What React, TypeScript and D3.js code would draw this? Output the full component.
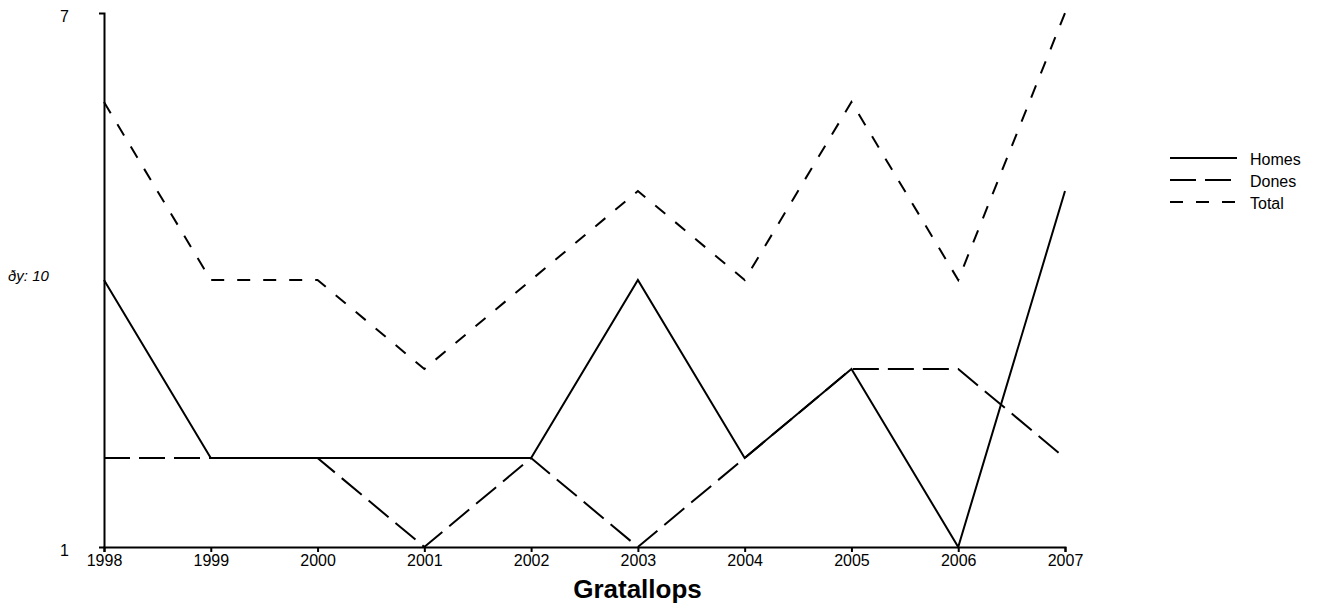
import { useEffect, useRef } from "react";
import * as d3 from "d3";

const years = [1998, 1999, 2000, 2001, 2002, 2003, 2004, 2005, 2006, 2007];
const homes = [4, 2, 2, 2, 2, 4, 2, 3, 1, 5];
const dones = [2, 2, 2, 1, 2, 1, 2, 3, 3, 2];
const total = [6, 4, 4, 3, 4, 5, 4, 6, 4, 7];

const seriesNames = ["Homes", "Dones", "Total"];
const seriesDash = [null, "26,9", "13,13"];

const WIDTH = 1318;
const HEIGHT = 613;
const margin = { left: 104, right: 253, top: 13, bottom: 66 };
const FONT = "Liberation Sans, Arial, sans-serif";

export default function App() {
  const svgRef = useRef<SVGSVGElement>(null);

  useEffect(() => {
    const svg = d3.select(svgRef.current);
    svg.selectAll("*").remove();

    const x = d3
      .scaleLinear()
      .domain([1998, 2007])
      .range([margin.left, WIDTH - margin.right]);
    const y = d3
      .scaleLinear()
      .domain([1, 7])
      .range([HEIGHT - margin.bottom, margin.top]);

    const allSeries = [homes, dones, total];
    const line = d3
      .line<number>()
      .x((_, i) => x(years[i]))
      .y((d) => y(d));

    const g = svg.append("g");
    allSeries.forEach((vals, i) => {
      g.append("path")
        .attr("d", line(vals))
        .attr("fill", "none")
        .attr("stroke", "#000")
        .attr("stroke-width", 2)
        .attr("stroke-dasharray", seriesDash[i]);
    });

    // x axis
    const xAxis = svg
      .append("g")
      .attr("transform", `translate(0,${y(1)})`)
      .call(
        d3
          .axisBottom(x)
          .tickValues(years)
          .tickFormat(d3.format("d"))
          .tickSize(5)
          .tickSizeOuter(5)
      );
    xAxis.attr("font-family", FONT).attr("font-size", 16);
    xAxis.select(".domain").attr("stroke-width", 2);
    xAxis.selectAll(".tick line").attr("stroke-width", 2);
    xAxis.selectAll(".tick text").attr("fill", "#000").attr("dy", "0.66em");

    // y axis
    const yAxis = svg
      .append("g")
      .attr("transform", `translate(${x(1998)},0)`)
      .call(
        d3
          .axisLeft(y)
          .tickValues([1, 7])
          .tickFormat(d3.format("d"))
          .tickSize(0)
          .tickSizeOuter(5)
      );
    yAxis.attr("font-family", FONT).attr("font-size", 16);
    yAxis.select(".domain").attr("stroke-width", 2);
    yAxis
      .selectAll(".tick text")
      .attr("fill", "#000")
      .attr("x", -35)
      .attr("dy", "0.55em");

    svg
      .append("text")
      .attr("x", 8)
      .attr("y", y(4) + 1)
      .attr("font-family", FONT)
      .attr("font-size", 15)
      .attr("font-style", "italic")
      .text("ðy: 10");

    svg
      .append("text")
      .attr("x", (x(1998) + x(2007)) / 2 + 53)
      .attr("y", 598)
      .attr("text-anchor", "middle")
      .attr("font-family", FONT)
      .attr("font-size", 26)
      .attr("font-weight", "bold")
      .text("Gratallops");

    // legend
    const legend = svg.append("g").attr("transform", "translate(1170,158)");
    seriesNames.forEach((name, i) => {
      const row = legend.append("g").attr("transform", `translate(0,${i * 22})`);
      row
        .append("line")
        .attr("x1", 0)
        .attr("x2", 67)
        .attr("stroke", "#000")
        .attr("stroke-width", 2)
        .attr("stroke-dasharray", seriesDash[i]);
      row
        .append("text")
        .attr("x", 80)
        .attr("y", 7)
        .attr("font-family", FONT)
        .attr("font-size", 16)
        .text(name);
    });
  }, []);

  return (
    <svg
      ref={svgRef}
      width={WIDTH}
      height={HEIGHT}
      style={{ position: "absolute", left: 0, top: 0 }}
    />
  );
}
